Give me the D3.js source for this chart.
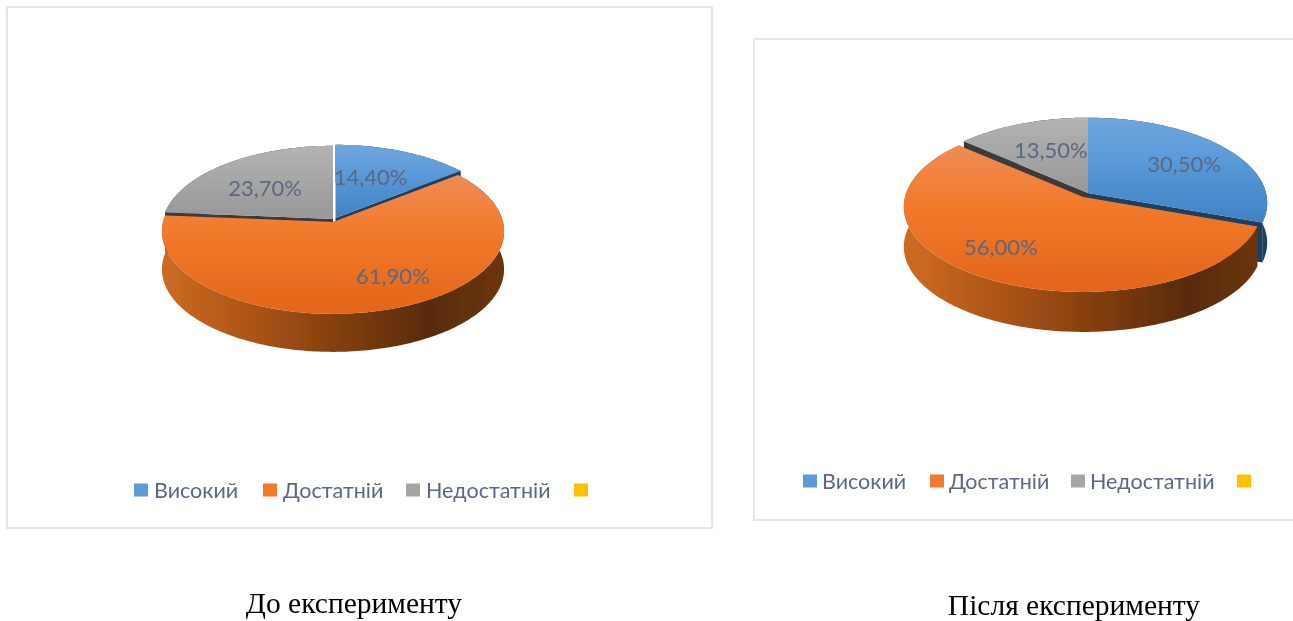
<!DOCTYPE html>
<html>
<head>
<meta charset="utf-8">
<script src="https://d3js.org/d3.v7.min.js"></script>
<style>
    html, body { margin: 0; padding: 0; background: #fff; overflow: hidden; }
    .panel { fill: #fff; stroke: #dfe6f0; stroke-width: 2; }
    .value, .legend-label { font-family: Lato, "Open Sans", sans-serif; fill: #5a6880; }
    .value { font-size: 22px; text-anchor: middle; dominant-baseline: central; }
    .legend-label { font-size: 21.5px; dominant-baseline: central; }
    .title { font-family: "Liberation Serif", serif; font-size: 29.5px; fill: #000; text-anchor: middle; }
</style>
</head>
<body>
<svg id="chart" width="1293" height="621"></svg>
<script>
// data
var categories = ['Високий', 'Достатній', 'Недостатній', ''];
var valuesBefore = [14.4, 61.9, 23.7, 0];
var valuesAfter = [30.5, 56.0, 13.5, 0];
var titleBefore = 'До експерименту';
var titleAfter = 'Після експерименту';

var baseColors = ['#5b9bd5', '#f27a2b', '#a5a5a5', '#ffc000'];
var edgeColors = ['#1b3f62', '#843c0c', '#3a3a3a', '#7f6000'];
// top, middle and bottom shade of each slice
var topShades = [
    ['#70a6dd', '#5a9ad8', '#3f82c4'],
    ['#ee8c55', '#f27a2b', '#e3651a'],
    ['#b3b3b3', '#a8a8a8', '#989898']
];

// layout of each panel, values stay in the arrays above
var layoutBefore = {
    id: 'before', box: [7, 7, 705, 521], cx: 333, cy: 220, r: 170, a: 81.5, k: 0.113, depth: 38,
    offsets: [[2.5, -2], [0, 2], [0, -1], [0, 0]],
    labelRadius: [0.6, 0.68, 0.63, 0], labelNudge: [[-7, 0], [24, -4], [1, 4], [0, 0]],
    legendX: [134, 263, 406, 574], legendY: 490, legendGap: 20, titleX: 354, titleY: 613
};
var layoutAfter = {
    id: 'after', box: [754, 39, 560, 481], cx: 1088, cy: 193, r: 178, a: 84, k: 0.115, depth: 40,
    offsets: [[0, 0], [-5, 4], [0, 0], [0, 0]],
    labelRadius: [0.69, 0.7, 0.55, 0], labelNudge: [[0, 2], [-14, -5], [1, -4], [0, 0]],
    legendX: [803, 930, 1071, 1237], legendY: 481, legendGap: 19, titleX: 1074, titleY: 615
};

var svg = d3.select('#chart');
var defs = svg.append('defs');

defs.append('filter').attr('id', 'soft')
    .append('feGaussianBlur').attr('stdDeviation', 0.35);

// vertical shading on slice tops
topShades.forEach(function(shades, i) {
    var g = defs.append('linearGradient').attr('id', 'top' + i)
        .attr('x1', 0).attr('y1', 0).attr('x2', 0).attr('y2', 1);
    g.append('stop').attr('offset', '0%').attr('stop-color', shades[0]);
    g.append('stop').attr('offset', '40%').attr('stop-color', shades[1]);
    g.append('stop').attr('offset', '100%').attr('stop-color', shades[2]);
});

var pie = d3.pie().sort(null).value(function(d) { return d; });
var color = d3.scaleOrdinal().domain(categories).range(baseColors);
var line = d3.line();

function drawPie(values, title, lay) {
    var g = svg.append('g').attr('filter', 'url(#soft)');
    g.append('rect').attr('class', 'panel')
        .attr('x', lay.box[0]).attr('y', lay.box[1])
        .attr('width', lay.box[2]).attr('height', lay.box[3]);

    // disc to screen, v grows toward the viewer so the front looks bigger
    function project(i, radius, angle) {
        var u = radius * Math.sin(angle), v = -radius * Math.cos(angle);
        var w = 1 - lay.k * v;
        return [lay.cx + lay.offsets[i][0] + lay.r * u / w,
                lay.cy + lay.offsets[i][1] + lay.a * v / w];
    }
    function rim(i, d) {
        var n = Math.max(2, Math.ceil((d.endAngle - d.startAngle) / 0.02));
        return d3.range(n + 1).map(function(j) {
            return project(i, 1, d.startAngle + (d.endAngle - d.startAngle) * j / n);
        });
    }
    function drop(p) { return [p[0], p[1] + lay.depth]; }

    var wall = defs.append('linearGradient').attr('id', 'wall-' + lay.id)
        .attr('gradientUnits', 'userSpaceOnUse')
        .attr('x1', lay.cx - lay.r).attr('x2', lay.cx + lay.r).attr('y1', 0).attr('y2', 0);
    [[0, '#cd6b22'], [0.25, '#ad5516'], [0.5, '#85400f'], [0.78, '#592b09'], [1, '#6b3610']].forEach(function(s) {
        wall.append('stop').attr('offset', s[0]).attr('stop-color', s[1]);
    });

    var arcs = pie(values);
    // draw the narrow slices' sides first, the orange one covers them
    var order = [0, 2, 1];
    order.forEach(function(i) {
        var d = arcs[i], pts = rim(i, d);
        var apex = project(i, 0, 0);
        var last = pts[pts.length - 1];
        var fill = i === 1 ? 'url(#wall-' + lay.id + ')' : edgeColors[i];
        g.append('path').attr('fill', edgeColors[i])
            .attr('d', line([apex, pts[0], drop(pts[0]), drop(apex)]) + 'Z');
        g.append('path').attr('fill', edgeColors[i])
            .attr('d', line([apex, last, drop(last), drop(apex)]) + 'Z');
        g.append('path').attr('fill', fill)
            .attr('d', line(pts.concat(pts.map(drop).reverse())) + 'Z');
    });
    order.forEach(function(i) {
        g.append('path').attr('fill', 'url(#top' + i + ')')
            .attr('d', line([project(i, 0, 0)].concat(rim(i, arcs[i]))) + 'Z');
    });

    arcs.forEach(function(d, i) {
        if (!d.value) return;
        var mid = (d.startAngle + d.endAngle) / 2;
        var p = project(i, lay.labelRadius[i], mid);
        g.append('text').attr('class', 'value')
            .attr('x', p[0] + lay.labelNudge[i][0])
            .attr('y', p[1] + lay.labelNudge[i][1])
            .text(d3.format('.2f')(d.value).replace('.', ',') + '%');
    });

    categories.forEach(function(c, i) {
        g.append('rect')
            .attr('x', lay.legendX[i]).attr('y', lay.legendY - 6.5)
            .attr('width', 14).attr('height', 13)
            .attr('fill', color(c));
        g.append('text').attr('class', 'legend-label')
            .attr('x', lay.legendX[i] + lay.legendGap).attr('y', lay.legendY)
            .text(c);
    });

    g.append('text').attr('class', 'title')
        .attr('x', lay.titleX).attr('y', lay.titleY).text(title);
}

drawPie(valuesBefore, titleBefore, layoutBefore);
drawPie(valuesAfter, titleAfter, layoutAfter);
</script>
</body>
</html>
